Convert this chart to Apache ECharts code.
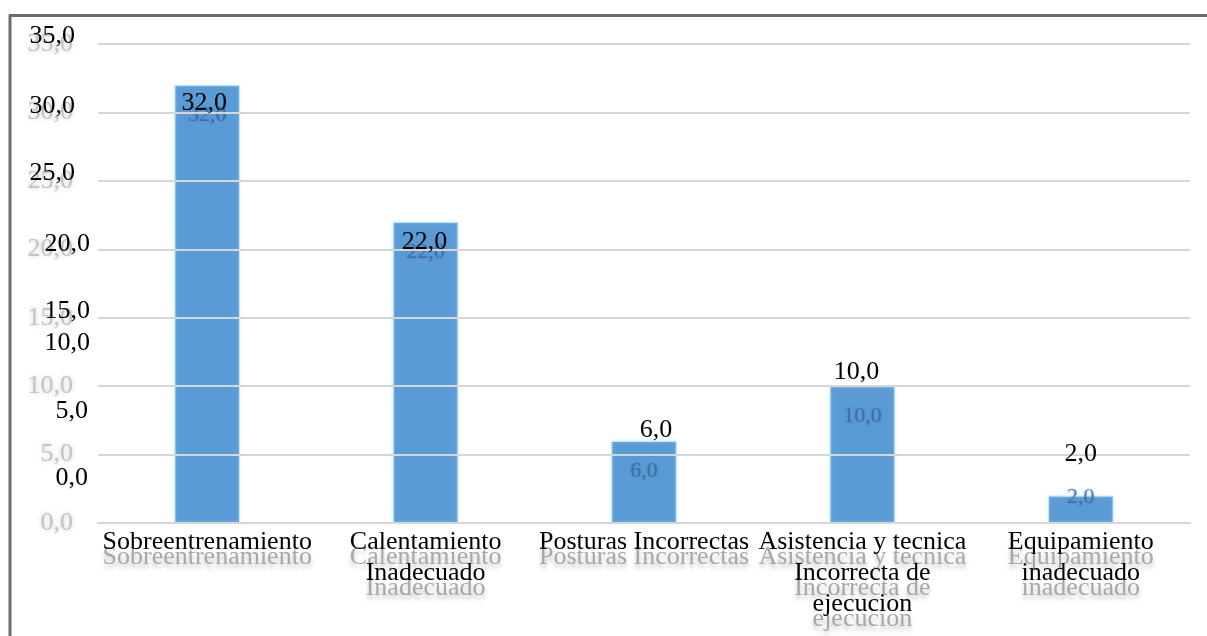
<!DOCTYPE html>
<html>
<head>
<meta charset="utf-8">
<script src="https://cdn.jsdelivr.net/npm/echarts@6/dist/echarts.min.js"></script>
<style>
  html, body { margin: 0; padding: 0; background: #fff; }
  #chart { width: 1207px; height: 636px; }
</style>
</head>
<body>
<div id="chart"></div>
<script>
// ---- data ----
const categories = [
  'Sobreentrenamiento',
  'Calentamiento\nInadecuado',
  'Posturas Incorrectas',
  'Asistencia y tecnica\nIncorrecta de\nejecucion',
  'Equipamiento\ninadecuado'
];
const values = [32, 22, 6, 10, 2];
const yTickLabels = ['0,0', '5,0', '10,0', '15,0', '20,0', '25,0', '30,0', '35,0'];

// ---- overlay layout (positions of the duplicated black text layer) ----
const blackLabelOffsets = [[-3, 31], [-1, 33], [12, 2], [-6, -1], [0, -28]];
const grayLabelOffsets = [[0, 0], [0, 0], [0, 0], [0, 0], [0, -28]];
const blackYLabelPos = [
  [88, 478], [88, 411], [90, 343], [90, 311], [90, 244], [75, 173], [75, 106], [75, 36]
];

const fmt = v => v.toFixed(1).replace('.', ',');
const SERIF = '"Liberation Serif", "DejaVu Serif", serif';

const chart = echarts.init(document.getElementById('chart'), null, { renderer: 'canvas' });

const graphics = [
  { type: 'line', shape: { x1: 9, y1: 15.5, x2: 1207, y2: 15.5 },
    style: { stroke: '#6a6a6a', lineWidth: 3 }, z: 100 },
  { type: 'line', shape: { x1: 10, y1: 15, x2: 10, y2: 636 },
    style: { stroke: '#6a6a6a', lineWidth: 3 }, z: 100 }
];
yTickLabels.forEach((t, i) => {
  graphics.push({
    type: 'text', x: blackYLabelPos[i][0], y: blackYLabelPos[i][1], z: 100,
    style: { text: t, fill: '#000', font: '26px ' + SERIF, align: 'right', verticalAlign: 'middle' }
  });
});

const option = {
  animation: false,
  backgroundColor: '#fff',
  grid: { left: 98, right: 17, top: 44, bottom: 113, containLabel: false },
  xAxis: [
    {
      type: 'category',
      data: categories,
      axisLine: { show: true, lineStyle: { color: '#d6d6d6', width: 2 } },
      axisTick: { show: false },
      axisLabel: {
        interval: 0, margin: 19,
        fontFamily: SERIF, fontSize: 26, lineHeight: 31,
        color: '#a8a8a8',
        textShadowColor: 'rgba(160,160,160,0.6)', textShadowBlur: 4, textShadowOffsetY: 4
      },
      z: 1
    },
    {
      type: 'category',
      data: categories,
      position: 'bottom',
      axisLine: { show: false },
      axisTick: { show: false },
      splitLine: { show: false },
      axisLabel: {
        interval: 0, margin: 4,
        fontFamily: SERIF, fontSize: 26, lineHeight: 31,
        color: '#000'
      },
      z: 10
    }
  ],
  yAxis: {
    type: 'value',
    min: 0, max: 35, interval: 5,
    axisLine: { show: false },
    axisTick: { show: false },
    splitLine: { lineStyle: { color: '#d6d6d6', width: 2 } },
    axisLabel: {
      margin: 25,
      formatter: v => fmt(v),
      fontFamily: SERIF, fontSize: 26,
      color: '#c4c4c4',
      textShadowColor: 'rgba(190,190,190,0.8)', textShadowBlur: 4
    },
    z: 5
  },
  series: [
    {
      type: 'bar',
      data: values.map((v, i) => ({
        value: v,
        label: { offset: grayLabelOffsets[i] }
      })),
      barWidth: '30%',
      itemStyle: {
        color: '#5b9bd5',
        borderColor: 'rgba(200,235,250,0.9)', borderWidth: 1,
        shadowColor: 'rgba(200,235,255,0.7)', shadowBlur: 3
      },
      label: {
        show: true, position: 'insideTop', distance: 19,
        formatter: p => fmt(p.value),
        fontFamily: SERIF, fontSize: 22,
        color: 'rgba(55,100,155,0.8)',
        textShadowColor: 'rgba(60,105,160,0.6)', textShadowBlur: 3
      },
      z: 2
    },
    {
      type: 'bar',
      data: values.map((v, i) => ({
        value: v,
        label: { offset: blackLabelOffsets[i] }
      })),
      barWidth: '30%',
      barGap: '-100%',
      itemStyle: { color: 'rgba(0,0,0,0)' },
      label: {
        show: true, position: 'top', distance: 0,
        formatter: p => fmt(p.value),
        fontFamily: SERIF, fontSize: 26, lineHeight: 26,
        color: '#000'
      },
      z: 8
    }
  ],
  graphic: graphics
};

chart.setOption(option);
</script>
</body>
</html>
